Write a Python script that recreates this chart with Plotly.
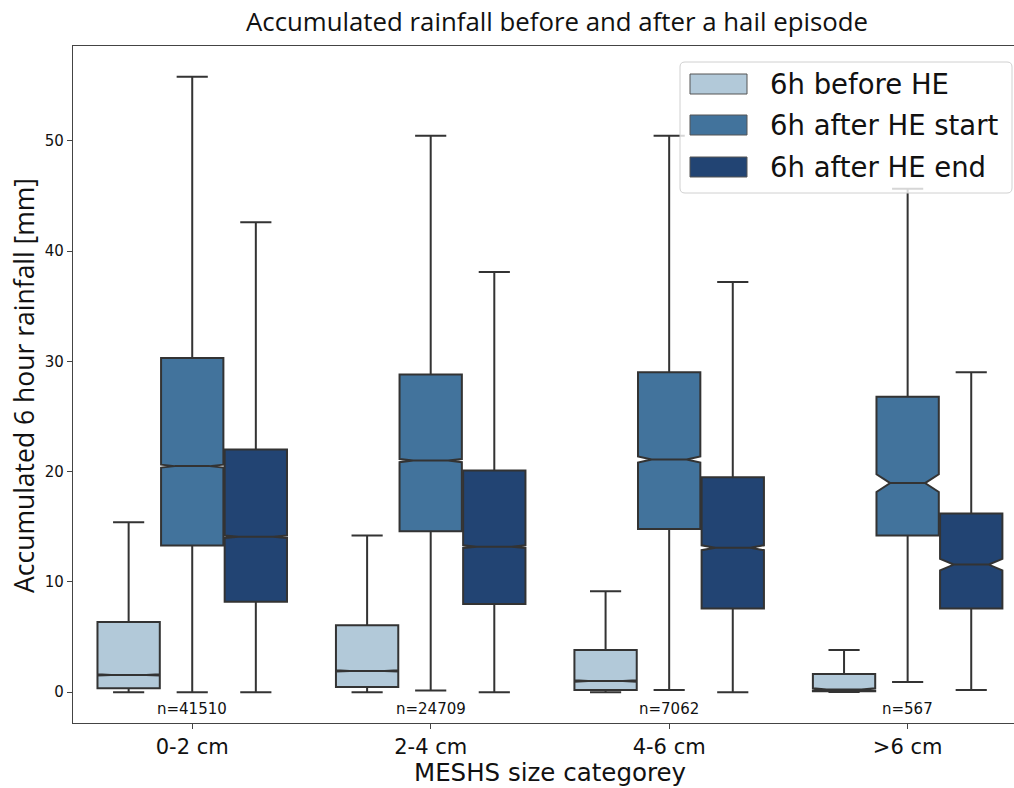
import plotly.graph_objects as go

# Size categories and sample counts
categories = ["0-2 cm", "2-4 cm", "4-6 cm", ">6 cm"]
counts = [41510, 24709, 7062, 567]

# Box statistics per series (mm), one value per category
series_names = ["6h before HE", "6h after HE start", "6h after HE end"]
series_colors = ["#b2c9d9", "#42739c", "#224473"]

before_low = [0.0, 0.0, 0.0, 0.03]
before_q1 = [0.35, 0.48, 0.2, 0.08]
before_med = [1.57, 1.93, 1.02, 0.25]
before_q3 = [6.37, 6.07, 3.83, 1.66]
before_high = [15.4, 14.2, 9.15, 3.83]
before_notch = [0.05, 0.06, 0.07, 0.1]

start_low = [0.0, 0.15, 0.2, 0.93]
start_q1 = [13.3, 14.6, 14.8, 14.2]
start_med = [20.5, 21.0, 21.1, 18.96]
start_q3 = [30.3, 28.8, 29.0, 26.8]
start_high = [55.8, 50.45, 50.45, 45.65]
start_notch = [0.13, 0.14, 0.27, 0.8]

end_low = [0.0, 0.0, 0.0, 0.2]
end_q1 = [8.2, 8.0, 7.6, 7.58]
end_med = [14.1, 13.2, 13.1, 11.57]
end_q3 = [22.0, 20.1, 19.5, 16.2]
end_high = [42.6, 38.1, 37.2, 29.0]
end_notch = [0.11, 0.12, 0.22, 0.52]

y_ticks = [0, 10, 20, 30, 40, 50]

stats = [
    (before_low, before_q1, before_med, before_q3, before_high, before_notch),
    (start_low, start_q1, start_med, start_q3, start_high, start_notch),
    (end_low, end_q1, end_med, end_q3, end_high, end_notch),
]

W, H = 1014, 788
L, R, T, B = 73, 0, 46, 65
PW, PH = W - L - R, H - T - B
EDGE = "#333333"
FONT = "DejaVu Sans"
TITLE_FONT = "Open Sans"


def px_x(p):
    return (p - L) / PW


def px_y(p):
    return (H - B - p) / PH


fig = go.Figure()
for name, color, (lo, q1, med, q3, hi, ns) in zip(series_names, series_colors, stats):
    fig.add_trace(go.Box(
        name=name,
        x=categories,
        lowerfence=lo,
        q1=q1,
        median=med,
        q3=q3,
        upperfence=hi,
        notchspan=ns,
        notched=True,
        notchwidth=0.22,
        whiskerwidth=0.5,
        fillcolor=color,
        line=dict(color=EDGE, width=2),
        boxpoints=False,
        showlegend=False,
        hoverinfo="skip",
    ))

# Sample size labels under each group
annotations = []
for cat, n in zip(categories, counts):
    annotations.append(dict(
        x=cat, y=-1.55, xref="x", yref="y", text=f"n={n}", showarrow=False,
        font=dict(family=FONT, size=15, color="#111111"),
        xanchor="center", yanchor="middle",
    ))

# Axis titles
annotations.append(dict(
    x=px_x(550), y=px_y(772), xref="paper", yref="paper",
    text="MESHS size categorey", showarrow=False,
    font=dict(family=FONT, size=24.5, color="#111111"),
    xanchor="center", yanchor="middle",
))
annotations.append(dict(
    x=px_x(24), y=px_y(386), xref="paper", yref="paper",
    text="Accumulated 6 hour rainfall [mm]", showarrow=False, textangle=-90,
    font=dict(family=TITLE_FONT, size=26.5, color="#111111"),
    xanchor="center", yanchor="middle",
))

# Legend box drawn on top of the plot area
shapes = []
lx0, lx1, ly0, ly1, rad = 680, 1012, 62, 193, 5
path = (
    f"M {px_x(lx0 + rad)},{px_y(ly0)} L {px_x(lx1 - rad)},{px_y(ly0)} "
    f"Q {px_x(lx1)},{px_y(ly0)} {px_x(lx1)},{px_y(ly0 + rad)} "
    f"L {px_x(lx1)},{px_y(ly1 - rad)} "
    f"Q {px_x(lx1)},{px_y(ly1)} {px_x(lx1 - rad)},{px_y(ly1)} "
    f"L {px_x(lx0 + rad)},{px_y(ly1)} "
    f"Q {px_x(lx0)},{px_y(ly1)} {px_x(lx0)},{px_y(ly1 - rad)} "
    f"L {px_x(lx0)},{px_y(ly0 + rad)} "
    f"Q {px_x(lx0)},{px_y(ly0)} {px_x(lx0 + rad)},{px_y(ly0)} Z"
)
shapes.append(dict(
    type="path", path=path, xref="paper", yref="paper", layer="above",
    fillcolor="rgba(255,255,255,0.8)", line=dict(color="#d0d0d0", width=1),
))
row_tops = [74, 115, 157]
for name, color, top in zip(series_names, series_colors, row_tops):
    shapes.append(dict(
        type="rect", xref="paper", yref="paper", layer="above",
        x0=px_x(690), x1=px_x(747), y0=px_y(top), y1=px_y(top + 20),
        fillcolor=color, line=dict(color="#555555", width=1),
    ))
    annotations.append(dict(
        x=px_x(768), y=px_y(top + 10), xref="paper", yref="paper",
        text=name, showarrow=False, xanchor="left", yanchor="middle",
        font=dict(family=FONT, size=27.5, color="#111111"),
    ))

fig.update_layout(
    width=W, height=H,
    margin=dict(l=L, r=R, t=T, b=B),
    paper_bgcolor="white", plot_bgcolor="white",
    boxmode="group", boxgap=0.2, boxgroupgap=0.02,
    title=dict(
        text="Accumulated rainfall before and after a hail episode",
        x=557 / W, xref="container", xanchor="center",
        y=1 - 22 / H, yref="container", yanchor="middle",
        font=dict(family=TITLE_FONT, size=25.8, color="#111111"),
    ),
    shapes=shapes,
    annotations=annotations,
)
fig.update_xaxes(
    type="category", range=[-0.5, 3.446],
    showline=True, mirror=True, linecolor="#444444", linewidth=1.2,
    ticks="outside", ticklen=5, tickwidth=1.2, tickcolor="#444444",
    tickfont=dict(family=FONT, size=21, color="#111111"),
    showgrid=False, zeroline=False,
)
fig.update_yaxes(
    range=[-2.79, 58.59], tickvals=y_ticks,
    showline=True, mirror=False, linecolor="#444444", linewidth=1.2,
    ticks="outside", ticklen=5, tickwidth=1.2, tickcolor="#444444",
    tickfont=dict(family=FONT, size=15, color="#111111"),
    showgrid=False, zeroline=False,
)

fig.write_html("out.html")
